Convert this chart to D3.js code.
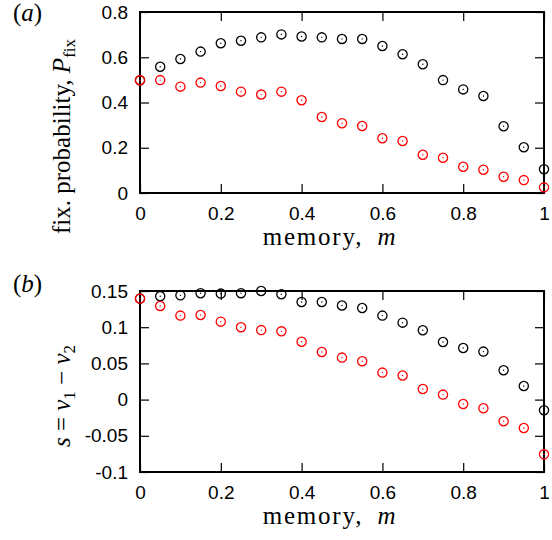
<!DOCTYPE html>
<html>
<meta charset="utf-8">
<style>
 body { margin: 0; background: #fff; }
 .tick text { font-family: "Liberation Sans", Arial, sans-serif; font-size: 19px; fill: #000; }
 .lab { font-family: "Liberation Serif", "DejaVu Serif", serif; font-size: 25px; fill: #000; }
 .xlab { letter-spacing: 1.8px; }
</style>
<body>
<script src="https://d3js.org/d3.v7.min.js"></script>
<script>

var memory = [0, 0.05, 0.1, 0.15, 0.2, 0.25, 0.3, 0.35, 0.4, 0.45, 0.5,
              0.55, 0.6, 0.65, 0.7, 0.75, 0.8, 0.85, 0.9, 0.95, 1];

// panel (a): fixation probability
var pfixBlack = [0.498, 0.558, 0.592, 0.625, 0.662, 0.673, 0.688, 0.701, 0.692, 0.688, 0.681,
                 0.681, 0.650, 0.613, 0.569, 0.499, 0.458, 0.429, 0.295, 0.202, 0.105];
var pfixRed   = [0.498, 0.499, 0.470, 0.488, 0.473, 0.448, 0.435, 0.448, 0.410, 0.336, 0.308,
                 0.296, 0.242, 0.230, 0.169, 0.156, 0.116, 0.103, 0.072, 0.057, 0.025];

// panel (b): s = nu1 - nu2
var sBlack = [0.1395, 0.1427, 0.144, 0.1468, 0.1464, 0.147, 0.150, 0.1454, 0.1348, 0.1348, 0.130,
              0.1265, 0.116, 0.1063, 0.0957, 0.0796, 0.0713, 0.0663, 0.0405, 0.0188, -0.0148];
var sRed   = [0.1395, 0.1293, 0.116, 0.1169, 0.1077, 0.100, 0.096, 0.0943, 0.080, 0.0658, 0.058,
              0.0529, 0.0373, 0.0332, 0.0146, 0.0069, -0.0061, -0.012, -0.030, -0.0392, -0.0756];

var xTicks = [0, 0.2, 0.4, 0.6, 0.8, 1];
var xTickLabels = ["0", "0.2", "0.4", "0.6", "0.8", "1"];
var aTicks = [0, 0.2, 0.4, 0.6, 0.8];
var aTickLabels = ["0", "0.2", "0.4", "0.6", "0.8"];
var bTicks = [-0.1, -0.05, 0, 0.05, 0.1, 0.15];
var bTickLabels = ["-0.1", "-0.05", "0", "0.05", "0.1", "0.15"];

var width = 552, height = 540;

var svg = d3.select("body").append("svg")
  .attr("width", width)
  .attr("height", height);

function panel(opt) {
  var x = d3.scaleLinear().domain([0, 1]).range([140, 544]);
  var y = d3.scaleLinear().domain(opt.domain).range([opt.bottom, opt.top]);
  var g = svg.append("g");

  // ticks point inward on all four sides
  var fmtX = function (d) { return xTickLabels[xTicks.indexOf(d)]; };
  var fmtY = function (d) { return opt.labels[opt.ticks.indexOf(d)]; };

  g.append("g").attr("transform", "translate(0," + opt.bottom + ")")
    .call(d3.axisBottom(x).tickValues(xTicks).tickFormat(fmtX).tickSizeInner(-9).tickSizeOuter(0).tickPadding(14));
  g.append("g").attr("transform", "translate(0," + opt.top + ")")
    .call(d3.axisTop(x).tickValues(xTicks).tickFormat("").tickSizeInner(-9).tickSizeOuter(0));
  g.append("g").attr("transform", "translate(140,0)")
    .call(d3.axisLeft(y).tickValues(opt.ticks).tickFormat(fmtY).tickSizeInner(-9).tickSizeOuter(0).tickPadding(12));
  g.append("g").attr("transform", "translate(544,0)")
    .call(d3.axisRight(y).tickValues(opt.ticks).tickFormat("").tickSizeInner(-9).tickSizeOuter(0));
  g.selectAll(".domain").remove();
  g.selectAll(".tick line").attr("stroke", "#000").attr("stroke-width", 1.2);

  g.append("rect")
    .attr("x", 140).attr("y", opt.top)
    .attr("width", 404).attr("height", opt.bottom - opt.top)
    .attr("fill", "none").attr("stroke", "#000").attr("stroke-width", 2);

  [[opt.black, "#000"], [opt.red, "#f00"]].forEach(function (s) {
    var pts = g.append("g").selectAll("g").data(s[0]).enter().append("g")
      .attr("transform", function (d, i) { return "translate(" + x(memory[i]) + "," + y(d) + ")"; });
    pts.append("circle").attr("r", 4.6).attr("fill", "none").attr("stroke", s[1]).attr("stroke-width", 1.3);
    pts.append("circle").attr("r", 0.7).attr("fill", s[1]);
  });

  // x label
  var xl = g.append("text").attr("class", "lab xlab")
    .attr("x", 330).attr("y", opt.bottom + 52).attr("text-anchor", "middle");
  xl.append("tspan").text("memory,\u2002");
  xl.append("tspan").attr("font-style", "italic").text("m");

  // panel letter
  var pl = g.append("text").attr("class", "lab").attr("x", 13).attr("y", opt.letterY);
  pl.append("tspan").text("(");
  pl.append("tspan").attr("font-style", "italic").text(opt.letter);
  pl.append("tspan").text(")");

  var yl = g.append("text").attr("class", "lab")
    .attr("transform", "translate(70," + opt.ylabelY + ") rotate(-90)")
    .attr("text-anchor", opt.ylabelAnchor);
  opt.ylabel(yl);
}

panel({
  top: 12, bottom: 193, domain: [0, 0.8],
  ticks: aTicks, labels: aTickLabels,
  black: pfixBlack, red: pfixRed, letter: "a", letterY: 21,
  ylabelY: 234, ylabelAnchor: "start",
  ylabel: function (t) {
    t.append("tspan").text("fix. probability, ");
    t.append("tspan").attr("font-style", "italic").text("P");
    t.append("tspan").attr("font-size", "17px").attr("dy", 5).text("fix");
  }
});

panel({
  top: 291, bottom: 472, domain: [-0.1, 0.15],
  ticks: bTicks, labels: bTickLabels,
  black: sBlack, red: sRed, letter: "b", letterY: 292,
  ylabelY: 396, ylabelAnchor: "middle",
  ylabel: function (t) {
    t.append("tspan").attr("font-style", "italic").text("s");
    t.append("tspan").text(" = ");
    t.append("tspan").attr("font-style", "italic").text("\u03bd");
    t.append("tspan").attr("font-size", "17px").attr("dy", 5).text("1");
    t.append("tspan").attr("dy", -5).text(" \u2212 ");
    t.append("tspan").attr("font-style", "italic").text("\u03bd");
    t.append("tspan").attr("font-size", "17px").attr("dy", 5).text("2");
  }
});

</script>
</body>
</html>
